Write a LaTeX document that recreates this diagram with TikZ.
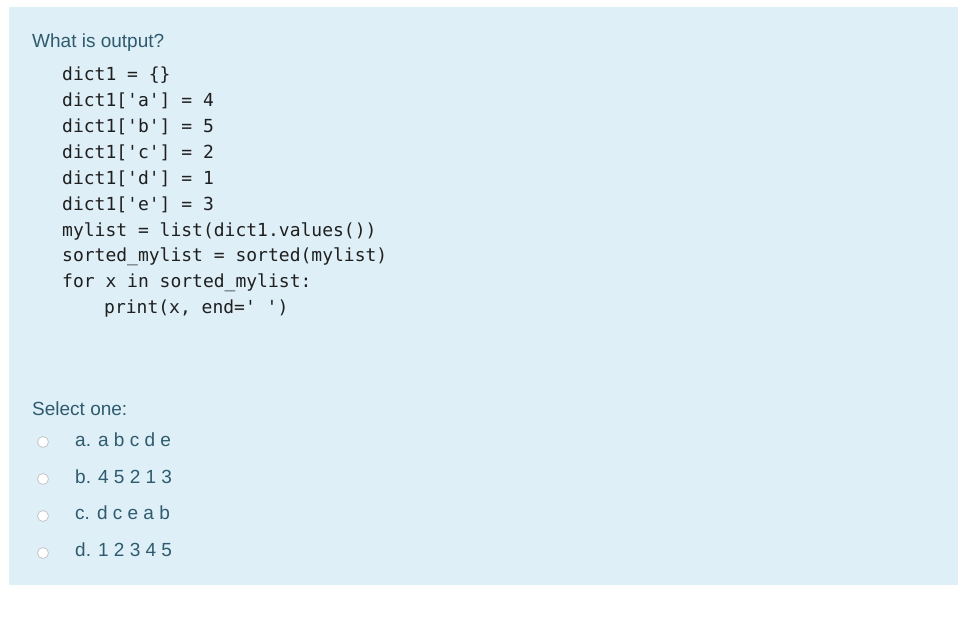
\documentclass[tikz,border=0pt]{standalone}
\usepackage{fontspec}
\setmainfont{Liberation Sans}
\setmonofont{DejaVu Sans Mono}
\definecolor{panel}{HTML}{DEEFF7}
\definecolor{txt}{HTML}{2F5B6E}
\definecolor{codec}{HTML}{1F1F1F}
\begin{document}
\begin{tikzpicture}[x=1pt,y=-1pt,
  lbl/.style={anchor=west,inner sep=0pt,text=txt,font=\fontsize{19}{21}\selectfont},
  code/.style={anchor=west,inner sep=0pt,text=codec,font=\ttfamily\fontsize{18}{20}\selectfont},
  radio/.style={circle,draw=gray!45,fill=white,line width=0.8pt,minimum size=11pt,inner sep=0pt}]
\useasboundingbox (0,0) rectangle (958,616);
\fill[white] (0,0) rectangle (958,616);
\fill[panel] (9,7) rectangle (958,585);
\node[lbl] (q) at (32,43) {What is output?};
\node[code] (c1) at (62,75) {dict1 = \{\}};
\node[code] (c2) at (62,101) {dict1['a'] = 4};
\node[code] (c3) at (62,127) {dict1['b'] = 5};
\node[code] (c4) at (62,153) {dict1['c'] = 2};
\node[code] (c5) at (62,179) {dict1['d'] = 1};
\node[code] (c6) at (62,205) {dict1['e'] = 3};
\node[code] (c7) at (62,231) {mylist = list(dict1.values())};
\node[code] (c8) at (62,257) {sorted\_mylist = sorted(mylist)};
\node[code] (c9) at (62,283) {for x in sorted\_mylist:};
\node[code] (c10) at (104,309) {print(x, end=' ')};
\node[lbl] (s) at (32,409) {Select one:};
\node[radio] (ra) at (43,442) {};
\node[radio] (rb) at (43,479) {};
\node[radio] (rc) at (43,516) {};
\node[radio] (rd) at (43,553) {};
\node[lbl] (a) at (75,440) {a. a b c d e};
\node[lbl] (b) at (75,477) {b. 4 5 2 1 3};
\node[lbl] (c) at (75,513) {c. d c e a b};
\node[lbl] (d) at (75,550) {d. 1 2 3 4 5};
\end{tikzpicture}
\end{document}
